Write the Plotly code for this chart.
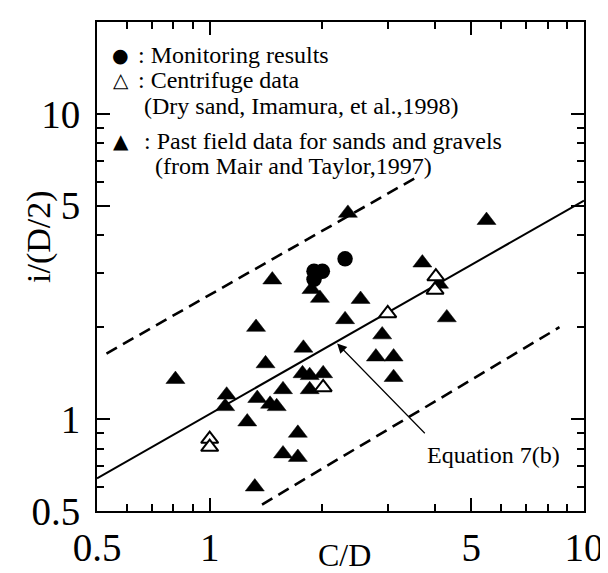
import numpy as np
import plotly.graph_objects as go

# ---------------- data ----------------
field_x = [0.81, 1.11, 1.10, 1.26, 1.32, 1.33, 1.34, 1.41, 1.47, 1.45, 1.51, 1.57, 1.57,
           1.72, 1.72, 1.77, 1.78, 1.85, 2.01, 1.85, 1.87, 1.97, 2.30, 2.34, 2.53, 2.89,
           2.78, 3.10, 3.10, 3.70, 4.10, 4.30, 5.49]
field_y = [1.35, 1.20, 1.10, 0.98, 0.60, 2.00, 1.17, 1.52, 2.86, 1.12, 1.10, 1.25, 0.77,
           0.90, 0.75, 1.41, 1.71, 1.39, 1.41, 1.25, 2.66, 2.49, 2.12, 4.73, 2.47, 1.89,
           1.60, 1.60, 1.37, 3.25, 2.77, 2.15, 4.48]

centrifuge_x = [1.00, 1.00, 2.01, 2.99, 4.02, 4.00]
centrifuge_y = [0.86, 0.81, 1.27, 2.22, 2.93, 2.65]

monitor_x = [1.90, 2.00, 1.90, 2.30]
monitor_y = [3.05, 3.05, 2.87, 3.35]

eq_x = [0.5, 10]          # Equation 7(b)
eq_y = [0.64, 5.2]
upper_x = [0.53, 3.57]    # upper bound (dashed)
upper_y = [1.64, 6.2]
lower_x = [1.38, 8.6]     # lower bound (dashed)
lower_y = [0.525, 2.0]

x_major = [0.5, 1, 5, 10]
x_major_text = ["0.5", "1", "5", "10"]
x_minor = [0.6, 0.7, 0.8, 0.9, 2, 3, 4, 6, 7, 8, 9]
y_major = [0.5, 1, 5, 10]
y_major_text = ["0.5", "1", "5", "10"]
y_minor = [0.6, 0.7, 0.8, 0.9, 2, 3, 4, 6, 7, 8, 9]

x_range = [0.5, 10]
y_range = [0.5, 20]

arrow_tail = (3.79, 0.889)
arrow_head = (2.19, 1.77)
eq_label_pos = (5.73, 0.765)

legend_rows = [
    ("●", ": Monitoring results"),
    ("△", ": Centrifuge data"),
    ("", "(Dry sand, Imamura, et al.,1998)"),
    ("▲", ": Past field data for sands and gravels"),
    ("", "(from Mair and Taylor,1997)"),
]

# ---------------- layout geometry ----------------
W, H = 608, 573
L, R, T, B = 89, 29, 13, 70
PW, PH = W - L - R, H - T - B
SERIF = "Liberation Serif, Times New Roman, serif"


def px(xp):
    return (xp - L) / PW


def py(yp):
    return (H - B - yp) / PH


fig = go.Figure()

fig.add_trace(go.Scatter(x=upper_x, y=upper_y, mode="lines",
                         line=dict(color="black", width=2.6, dash="12px,7px"), hoverinfo="skip"))
fig.add_trace(go.Scatter(x=lower_x, y=lower_y, mode="lines",
                         line=dict(color="black", width=2.6, dash="12px,7px"), hoverinfo="skip"))
fig.add_trace(go.Scatter(x=eq_x, y=eq_y, mode="lines",
                         line=dict(color="black", width=2), hoverinfo="skip"))

fig.add_trace(go.Scatter(x=field_x, y=field_y, mode="markers",
                         marker=dict(symbol="triangle-up", size=16.5, color="black",
                                     line=dict(width=0.5, color="black"))))
fig.add_trace(go.Scatter(x=centrifuge_x, y=centrifuge_y, mode="markers",
                         marker=dict(symbol="triangle-up", size=15, color="white",
                                     line=dict(width=2, color="black"))))
fig.add_trace(go.Scatter(x=monitor_x, y=monitor_y, mode="markers",
                         marker=dict(symbol="circle", size=15.5, color="black",
                                     line=dict(width=0))))

annotations = []
# arrow to the equation line
annotations.append(dict(x=np.log10(arrow_head[0]), y=np.log10(arrow_head[1]),
                        ax=np.log10(arrow_tail[0]), ay=np.log10(arrow_tail[1]),
                        xref="x", yref="y", axref="x", ayref="y", text="",
                        showarrow=True, arrowhead=2, arrowsize=1.6, arrowwidth=1.2,
                        arrowcolor="black", standoff=0, startstandoff=0))
annotations.append(dict(x=np.log10(eq_label_pos[0]), y=np.log10(eq_label_pos[1]),
                        xref="x", yref="y", text="Equation 7(b)", showarrow=False,
                        font=dict(family=SERIF, size=24, color="black")))

# legend block
sym_x = 113
row_y = [46, 71, 97, 132, 157]
text_x = [128, 128, 134, 134, 145]
sym_size = {"●": 19, "△": 20, "▲": 20}
for (sym, txt), yy, tx in zip(legend_rows, row_y, text_x):
    if sym:
        annotations.append(dict(x=px(sym_x), y=py(yy), xref="paper", yref="paper",
                                text=sym, showarrow=False, xanchor="center", yanchor="middle",
                                font=dict(family="DejaVu Sans", size=sym_size[sym], color="black")))
    annotations.append(dict(x=px(tx), y=py(yy), xref="paper", yref="paper",
                            text=txt, showarrow=False, xanchor="left", yanchor="middle",
                            font=dict(family=SERIF, size=24, color="black")))

# axis titles
annotations.append(dict(x=px(30), y=py(228), xref="paper", yref="paper", text="i/(D/2)",
                        textangle=-90, showarrow=False, xanchor="center", yanchor="middle",
                        font=dict(family=SERIF, size=34, color="black")))
annotations.append(dict(x=px(338), y=py(547), xref="paper", yref="paper", text="C/D",
                        showarrow=False, xanchor="center", yanchor="middle",
                        font=dict(family=SERIF, size=32, color="black")))

axis_common = dict(type="log", showgrid=False, zeroline=False, showline=True,
                   linecolor="black", linewidth=2, mirror="allticks",
                   ticks="inside", ticklen=13, tickwidth=1.6, tickcolor="black",
                   tickfont=dict(family=SERIF, size=39, color="black"))

fig.update_layout(
    width=W, height=H, autosize=False,
    margin=dict(l=L, r=R, t=T, b=B, pad=0),
    paper_bgcolor="white", plot_bgcolor="white",
    showlegend=False,
    xaxis=dict(range=[np.log10(x_range[0]), np.log10(x_range[1])],
               tickmode="array", tickvals=x_major, ticktext=x_major_text,
               minor=dict(tickmode="array", tickvals=x_minor, ticks="inside", ticklen=7,
                          tickwidth=1.6, tickcolor="black"),
               ticklabelstandoff=1, **axis_common),
    yaxis=dict(range=[np.log10(y_range[0]), np.log10(y_range[1])],
               tickmode="array", tickvals=y_major, ticktext=y_major_text,
               minor=dict(tickmode="array", tickvals=y_minor, ticks="inside", ticklen=7,
                          tickwidth=1.6, tickcolor="black"),
               ticklabelstandoff=7, **axis_common),
    annotations=annotations,
)

fig.write_html("out.html")
